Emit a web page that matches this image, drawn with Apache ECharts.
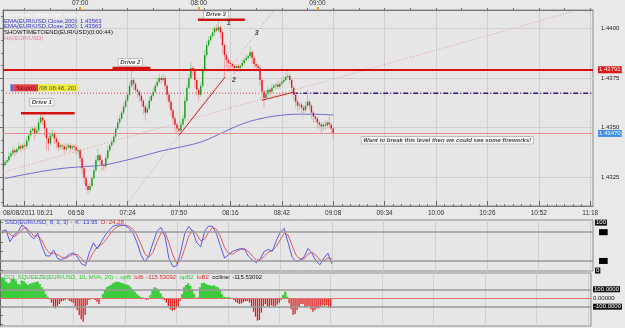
<!DOCTYPE html>
<html>
<head>
<meta charset="utf-8">
<script src="https://cdn.jsdelivr.net/npm/echarts@6/dist/echarts.min.js"></script>
<style>
  html, body { margin: 0; padding: 0; background: #e9e9e9; }
  #chart { width: 625px; height: 328px; }
</style>
</head>
<body>
<div id="chart"></div>
<script>
// EUR/USD 1-minute Heikin-Ashi bars, 08/08/2011, first bar 06:22
// prices are kept in pips above 1.4300
const firstOpen = 31;
const closes = [
  32.5, 33.5, 35.5, 37, 38.5, 37.5, 39, 40.5, 39.5, 41,
  40.5, 43.5, 46, 48.5, 49.5, 47, 48.5, 52.5, 55, 53.5,
  49.5, 44.5, 42, 46, 47, 44.5, 42.5, 40, 41, 40.5,
  39, 40, 41, 39.5, 40.5, 40, 38.5, 38.5, 34.5, 29.5,
  24.5, 20.5, 18.5, 20.5, 24.5, 28.5, 33.5, 36, 33.5, 31,
  30.5, 34.5, 38.5, 41, 42.5, 45.5, 49.5, 52.5, 54.5, 57.5,
  60.5, 63.5, 66.5, 71, 74, 72, 69, 68, 66, 63.5,
  60.5, 57.5, 59.5, 63.5, 66, 68, 71, 73, 75, 74,
  75, 71, 66.5, 63, 58.7, 54.5, 51.5, 49.5, 48.5, 51.5,
  54.5, 63.5, 70, 75, 80, 79, 74, 69, 66.5, 71,
  78.5, 86.5, 91.5, 94, 96, 98, 100, 99, 100.5, 98,
  91.5, 86.5, 84, 82.5, 82, 81, 80, 81, 80, 81,
  82.5, 84, 85, 86, 88, 85, 82, 81, 80, 74,
  68, 65, 67, 69, 68, 70, 71, 71.5, 70.5, 72,
  73, 74, 75.5, 76, 74, 70, 66.5, 63, 61, 61.5,
  60, 58.7, 61, 63, 61, 57.5, 55.5, 54.5, 52.5, 51.5,
  50.5, 51.5, 51, 52.5, 51.5, 49.5, 47
];
const wickUp = [
  1, 1, 2, 1, 2, 1, 1, 2, 1, 1,
  1, 2, 1, 2, 1, 1, 2, 2, 3, 1,
  1, 1, 1, 2, 2, 1, 1, 1, 1, 1,
  1, 2, 1, 1, 1, 1, 1, 1, 1, 1,
  1, 1, 1, 2, 1, 2, 2, 3, 1, 1,
  1, 2, 2, 1, 2, 2, 1, 2, 2, 1,
  2, 2, 1, 2, 5, 1, 1, 1, 1, 1,
  1, 1, 2, 2, 1, 2, 1, 2, 2, 1,
  2, 1, 1, 1, 1, 1, 1, 1, 1, 2,
  2, 2, 2, 2, 3, 1, 1, 1, 1, 2,
  2, 3, 2, 2, 1, 2, 1, 2, 3, 1,
  1, 1, 1, 1, 1, 1, 1, 1, 1, 1,
  2, 1, 2, 1, 3, 1, 1, 1, 1, 1,
  1, 1, 2, 2, 1, 2, 1, 1, 2, 1,
  2, 2, 2, 3, 1, 1, 1, 1, 1, 1,
  1, 1, 2, 6, 1, 1, 1, 1, 1, 1,
  1, 1, 2, 1, 3, 1, 1
];
const wickDn = [
  1, 1, 1, 1, 1, 2, 1, 1, 2, 1,
  2, 1, 1, 1, 1, 3, 1, 1, 1, 2,
  4, 6, 4, 1, 1, 3, 3, 2, 1, 2,
  2, 1, 1, 2, 1, 2, 2, 2, 2, 3,
  3, 2, 2, 1, 1, 1, 1, 1, 3, 3,
  2, 1, 1, 1, 1, 1, 1, 1, 1, 1,
  1, 1, 1, 1, 1, 3, 2, 3, 3, 3,
  4, 4, 1, 1, 1, 1, 1, 1, 1, 2,
  1, 2, 3, 3, 3, 3, 4, 3, 3, 1,
  1, 1, 1, 1, 1, 3, 4, 3, 3, 1,
  1, 1, 1, 1, 1, 1, 2, 1, 1, 3,
  4, 11, 4, 3, 3, 2, 3, 2, 2, 2,
  1, 1, 1, 1, 1, 3, 2, 2, 2, 3,
  4, 5, 1, 2, 2, 1, 1, 2, 1, 1,
  1, 1, 1, 1, 2, 3, 3, 3, 3, 2,
  3, 3, 1, 1, 2, 3, 3, 2, 3, 2,
  3, 2, 2, 1, 2, 3, 3
];
// EMA(200) read at every 10th bar
const emaBars = [0, 10, 20, 30, 40, 50, 60, 70, 80, 90, 100, 110, 120, 130, 140, 150, 160, 166];
const emaPips = [24.3, 26.3, 28.1, 29.5, 30.3, 31.1, 33.2, 35.7, 38.4, 40.4, 43.0, 47.4, 51.8, 54.6, 56.2, 56.7, 56.6, 56.3];

// slow stochastic, read at every 2nd bar
const stochK = [82, 85, 60, 74, 80, 95, 89, 74, 66, 78, 52, 31, 30, 43, 25, 22, 28, 34, 37, 28,
  14, 10, 38, 58, 45, 60, 74, 84, 93, 95, 95, 94, 88, 78, 58, 32, 18, 32, 58, 82,
  90, 72, 25, 8, 10, 40, 78, 92, 82, 58, 50, 82, 93, 92, 76, 50, 26, 33, 40, 43,
  46, 45, 30, 22, 16, 25, 40, 44, 40, 62, 80, 88, 58, 28, 19, 22, 28, 46, 36, 20,
  12, 26, 36, 14];
const stochD = [78, 82, 76, 70, 76, 85, 90, 82, 72, 72, 64, 46, 36, 36, 33, 28, 25, 30, 34, 33,
  25, 16, 22, 38, 49, 54, 62, 74, 85, 91, 94, 95, 92, 86, 73, 54, 34, 28, 38, 60,
  78, 80, 58, 32, 14, 22, 46, 72, 84, 76, 62, 66, 80, 90, 86, 70, 48, 36, 34, 40,
  44, 45, 40, 30, 22, 22, 30, 38, 42, 50, 64, 78, 74, 52, 32, 24, 24, 34, 38, 32,
  22, 20, 26, 24];

// CCI squeeze histogram, one value per bar
const cci = [
  238, 226, 188, 169, 176, 218, 222, 199, 161, 153,
  199, 192, 169, 149, 161, 169, 176, 184, 188, 161,
  123, 84, 46, 15, -15, -54, -107, -119, -92, -69,
  -42, -31, -23, -8, -31, -42, -54, -92, -138, -195,
  -245, -272, -195, -80, -23, -15, -11, -23, -42, -69,
  -4, 46, 92, 123, 138, 149, 169, 180, 188, 184,
  176, 169, 161, 153, 146, 123, 92, 73, 46, 27,
  11, 4, -11, -23, -15, 34, 92, 123, 111, 84,
  54, 15, -23, -54, -92, -130, -146, -138, -119, -92,
  -31, 46, 123, 149, 169, 138, 100, 46, -8, 8,
  123, 169, 176, 161, 149, 146, 138, 146, 130, 123,
  92, 46, 15, 8, 11, 8, -4, -23, -46, -61,
  -69, -61, -46, -38, -34, -54, -92, -157, -215, -261,
  -253, -169, -92, -69, -92, -100, -84, -92, -100, -77,
  -54, -23, 34, 73, 15, -61, -130, -195, -184, -138,
  -100, -69, -69, -107, -100, -92, -130, -157, -138, -119,
  -119, -100, -84, -92, -80, -107, -115
];

// levels and hand-drawn lines: [minute since 06:21, price]
const resistance = 1.43791;
const support = 1.43470;
const stopLine = [[0, 1.43673], [146.8, 1.43673]];
const stopExt = [[146.8, 1.43673], [298.4, 1.43673]];
const fanLine = [[0, 1.43275], [287, 1.44081]];
const steepLine = [[62.9, 1.43118], [136.9, 1.44091]];
const legLine = [[89.1, 1.43461], [112.4, 1.43755]];
const baseLine = [[130.9, 1.43637], [147, 1.43678]];
const drive1 = [[9.1, 1.43572], [36.2, 1.43572]];
const drive2 = [[55.4, 1.43800], [74.5, 1.43800]];
const drive3 = [[98.6, 1.44043], [122.3, 1.44043]];

const boxNotes = ['Drive 1', 'Drive 2', 'Drive 3', 'Want to break this level then we could see some fireworks!'];
const boxNoteAt = [[19.6, 1.43627], [64.4, 1.43829], [107.7, 1.44068], [224.7, 1.43436]];
const pointNotes = ['1', '2', '3'];
const pointNoteAt = [[114.2, 1.44025], [116.8, 1.43738], [128.3, 1.43975]];
const stopNoteAt = [3.5, 1.43700];

const priceTicks = [1.4325, 1.4350, 1.4375, 1.4400];
const gridMinutes = [11, 37, 63, 89, 115, 141, 167, 193, 219, 245, 271, 297];
const bottomLabels = [0, 37, 63, 89, 115, 141, 167, 193, 219, 245, 271, 297];
const topLabels = [39, 99, 159];

const P = q => +(1.43 + q / 10000).toFixed(5);
const hhmm = m => {
  const t = 6 * 60 + 21 + Math.round(m);
  return String(Math.floor(t / 60)).padStart(2, '0') + ':' + String(t % 60).padStart(2, '0');
};

const haData = closes.map((c, i) => {
  const o = i ? closes[i - 1] : firstOpen;
  return [i + 1, P(o), P(c), P(Math.min(o, c) - wickDn[i]), P(Math.max(o, c) + wickUp[i])];
});
const emaData = emaBars.map((b, i) => [b + 1, P(emaPips[i])]);
const kData = stochK.map((v, j) => [2 * j + 1, v]);
const dData = stochD.map((v, j) => [2 * j + 1, v]);
const cciData = cci.map((v, i) => [i + 1, v]);

const X_MAX = 298.4;
const FONT = 'Liberation Sans';
const minorBottom = [];
for (let m = 11 - 26; m <= X_MAX; m += 26 / 6) if (m >= 0) minorBottom.push(+m.toFixed(2));
const minorTop = [];
for (let m = 11; m <= X_MAX; m += 13) minorTop.push(m);
const minorPrice = [];
for (let p = 1.43125; p < 1.441; p += 0.000625) minorPrice.push(+p.toFixed(6));

const gridBg = '#e6e6e6';
const splitColor = '#d0d0d0';

function renderHA(params, api) {
  const m = api.value(0);
  const o = api.coord([m, api.value(1)]);
  const c = api.coord([m, api.value(2)]);
  const l = api.coord([m, api.value(3)]);
  const h = api.coord([m, api.value(4)]);
  const up = api.value(2) >= api.value(1);
  const top = Math.min(o[1], c[1]);
  const bot = Math.max(o[1], c[1]);
  return {
    type: 'group',
    children: [
      { type: 'line', shape: { x1: o[0], y1: h[1], x2: o[0], y2: l[1] },
        style: { stroke: up ? '#9fd69f' : '#f2a2a8', lineWidth: 1 } },
      { type: 'rect', shape: { x: o[0] - 0.7, y: top, width: 1.4, height: Math.max(bot - top, 1) },
        style: { fill: up ? '#1c9a1c' : '#e2141c' } }
    ]
  };
}

function renderCci(params, api) {
  const m = api.value(0);
  const v = api.value(1);
  const p0 = api.coord([m, 0]);
  const p1 = api.coord([m, v]);
  const w = v >= 0 ? 2.4 : 1.3;
  return {
    type: 'rect',
    shape: { x: p0[0] - w / 2, y: Math.min(p0[1], p1[1]), width: w, height: Math.abs(p1[1] - p0[1]) },
    style: { fill: v >= 0 ? '#3ccc3c' : '#e21c1c' }
  };
}

const lineSeries = (data, color, width, type, z) => ({
  type: 'line', xAxisIndex: 0, yAxisIndex: 0, data, symbol: 'none', silent: true, z: z || 3,
  lineStyle: { color, width, type }
});

const boxLabel = {
  show: true, position: 'inside', fontFamily: FONT, fontSize: 6, fontStyle: 'italic', fontWeight: 'bold',
  color: '#111', backgroundColor: '#fff', borderColor: '#888', borderWidth: 0.5, padding: [1, 2, 0, 2]
};

const text = (x, y, rich, str, fill) => ({
  type: 'text', left: x, top: y, z: 100,
  style: { text: str, rich, font: '6px ' + FONT, fill: fill || '#111' }
});

const chart = echarts.init(document.getElementById('chart'), null, { renderer: 'canvas' });
chart.setOption({
  animation: false,
  backgroundColor: '#e9e9e9',
  textStyle: { fontFamily: FONT },
  grid: [
    { left: 0, right: 32, top: 10, height: 196, show: true, backgroundColor: gridBg, borderColor: '#8c8c8c', borderWidth: 1 },
    { left: 0, right: 32, top: 220, height: 51, show: true, backgroundColor: gridBg, borderColor: '#8c8c8c', borderWidth: 1 },
    { left: 0, right: 32, top: 273, height: 53, show: true, backgroundColor: gridBg, borderColor: '#8c8c8c', borderWidth: 1 }
  ],
  xAxis: [
    { gridIndex: 0, type: 'value', min: 0, max: X_MAX, position: 'bottom',
      axisLine: { show: true, lineStyle: { color: '#777' } },
      axisTick: { show: true, inside: true, length: 5, customValues: gridMinutes, lineStyle: { color: '#666' } },
      axisLabel: { customValues: bottomLabels, formatter: v => (v === 0 ? '08/08/2011 06:21' : hhmm(v)),
        fontSize: 6.5, color: '#333', margin: 4, alignMinLabel: 'left' },
      splitLine: { show: true, lineStyle: { color: splitColor } } },
    { gridIndex: 0, type: 'value', min: 0, max: X_MAX, position: 'bottom',
      axisLine: { show: false },
      axisTick: { show: true, inside: true, length: 2, customValues: minorBottom, lineStyle: { color: '#777' } },
      axisLabel: { show: false }, splitLine: { show: false } },
    { gridIndex: 0, type: 'value', min: 0, max: X_MAX, position: 'top',
      axisLine: { show: true, lineStyle: { color: '#777' } },
      axisTick: { show: true, length: 2, customValues: minorTop, lineStyle: { color: '#777' } },
      axisLabel: { customValues: topLabels, formatter: v => hhmm(v), fontSize: 6.5, color: '#333', margin: 3 },
      splitLine: { show: false } },
    { gridIndex: 1, type: 'value', min: 0, max: X_MAX,
      axisLine: { show: false }, axisTick: { show: false, customValues: gridMinutes }, axisLabel: { show: false },
      splitLine: { show: true, lineStyle: { color: splitColor } } },
    { gridIndex: 2, type: 'value', min: 0, max: X_MAX,
      axisLine: { show: false }, axisTick: { show: false, customValues: gridMinutes }, axisLabel: { show: false },
      splitLine: { show: true, lineStyle: { color: splitColor } } },
    { gridIndex: 0, type: 'value', min: 0, max: X_MAX, position: 'top',
      axisLine: { show: false },
      axisTick: { show: true, length: 3, customValues: topLabels, lineStyle: { color: '#e8a21c', width: 2 } },
      axisLabel: { show: false }, splitLine: { show: false } }
  ],
  yAxis: [
    { gridIndex: 0, type: 'value', position: 'right', offset: 6, min: 1.431043, max: 1.440922,
      axisLine: { show: true, lineStyle: { color: '#666' } },
      axisTick: { show: true, inside: true, length: 4, customValues: priceTicks, lineStyle: { color: '#666' } },
      axisLabel: { customValues: priceTicks, formatter: v => v.toFixed(4), fontSize: 6, color: '#222', margin: 2 },
      splitLine: { show: true, lineStyle: { color: splitColor } } },
    { gridIndex: 0, type: 'value', position: 'right', offset: 6, min: 1.431043, max: 1.440922,
      axisLine: { show: false },
      axisTick: { show: true, inside: true, length: 2, customValues: minorPrice, lineStyle: { color: '#777' } },
      axisLabel: { show: false }, splitLine: { show: false } },
    { gridIndex: 1, type: 'value', position: 'right', min: -1, max: 105.5,
      axisLine: { show: true, lineStyle: { color: '#666' } },
      axisTick: { show: true, length: 3, customValues: [0, 20, 40, 60, 80, 100], lineStyle: { color: '#666' } },
      axisLabel: { customValues: [0, 100], fontSize: 6, color: '#fff', backgroundColor: '#111', padding: [0, 1], margin: 2 },
      splitLine: { show: false } },
    { gridIndex: 2, type: 'value', position: 'right', min: -322, max: 287,
      axisLine: { show: true, lineStyle: { color: '#666' } },
      axisTick: { show: true, length: 3, customValues: [-300, -200, -100, 0, 100, 200], lineStyle: { color: '#666' } },
      axisLabel: { customValues: [-100, 0, 100], fontSize: 6, margin: 2,
        formatter: v => (v === 0 ? '{n|0.00000}' : '{b|' + v.toFixed(4) + '}'),
        rich: { b: { color: '#fff', backgroundColor: '#111', fontSize: 6, padding: [0, 1] },
                n: { color: '#222', fontSize: 6 } } },
      splitLine: { show: false } }
  ],
  series: [
    lineSeries(fanLine, '#e39a9a', 1, [1, 2], 2),
    lineSeries(steepLine, '#e39a9a', 1, [1, 2], 2),
    lineSeries(stopLine, '#d84848', 1, [1, 2], 2),
    lineSeries(stopExt, '#3a1478', 1.5, [5, 2, 1, 2], 2),
    {
      type: 'line', name: 'EMA', xAxisIndex: 0, yAxisIndex: 0, data: emaData, symbol: 'none',
      smooth: 0.4, silent: true, z: 3, lineStyle: { color: '#6d6dd0', width: 1 },
      markLine: {
        symbol: 'none', silent: true, precision: 5,
        data: [
          { yAxis: resistance, lineStyle: { color: '#d41010', width: 2, type: 'solid' },
            label: { show: true, position: 'end', formatter: resistance.toFixed(5), fontSize: 6, color: '#fff',
              backgroundColor: '#e01414', padding: [1, 1, 0, 1], distance: 5 } },
          { yAxis: support, lineStyle: { color: '#e69090', width: 1, type: 'solid' },
            label: { show: true, position: 'end', formatter: support.toFixed(5), fontSize: 6, color: '#fff',
              backgroundColor: '#3f8ee6', padding: [1, 1, 0, 1], distance: 5 } }
        ]
      }
    },
    {
      type: 'custom', name: 'HA', xAxisIndex: 0, yAxisIndex: 0, data: haData, renderItem: renderHA,
      encode: { x: 0, y: [1, 2, 3, 4] }, z: 4, silent: true, clip: true
    },
    lineSeries(legLine, '#d42222', 1, 'solid', 5),
    lineSeries(baseLine, '#d42222', 1, 'solid', 5),
    lineSeries(drive1, '#d41010', 2.5, 'solid', 5),
    lineSeries(drive2, '#d41010', 2.5, 'solid', 5),
    lineSeries(drive3, '#d41010', 2.5, 'solid', 5),
    {
      type: 'scatter', xAxisIndex: 0, yAxisIndex: 0, symbolSize: 1, silent: true, z: 6,
      itemStyle: { color: 'rgba(0,0,0,0)' },
      data: boxNotes.map((t, i) => ({ value: boxNoteAt[i], label: Object.assign({}, boxLabel, { formatter: t }) }))
        .concat(pointNotes.map((t, i) => ({ value: pointNoteAt[i],
          label: { show: true, position: 'inside', formatter: t, fontFamily: FONT, fontSize: 7,
            fontStyle: 'italic', fontWeight: 'bold', color: '#222' } })))
        .concat([{ value: stopNoteAt, label: {
          show: true, position: 'right', distance: 0, fontFamily: FONT, fontSize: 6,
          formatter: '{bl|}{rd|Stop(0)}{yl|/08 08:48, 20)}',
          rich: {
            bl: { backgroundColor: '#3a46c8', width: 3, height: 7 },
            rd: { backgroundColor: '#e4181c', color: '#5a0000', padding: [1, 2, 0, 3], fontSize: 6 },
            yl: { backgroundColor: '#f2ee10', color: '#333', padding: [1, 2, 0, 1], fontSize: 6 }
          } } }])
    },
    {
      type: 'line', name: 'K', xAxisIndex: 3, yAxisIndex: 2, data: kData, symbol: 'none', silent: true,
      lineStyle: { color: '#5a5ae6', width: 1 }, z: 4,
      markLine: {
        symbol: 'none', silent: true,
        lineStyle: { color: '#9a9a9a', width: 1.5, type: 'solid' },
        label: { show: true, position: 'end', formatter: '80', fontSize: 6, color: '#000',
          backgroundColor: '#000', padding: [0, 1], distance: 6 },
        data: [{ yAxis: 80 }, { yAxis: 20 }]
      }
    },
    {
      type: 'line', name: 'D', xAxisIndex: 3, yAxisIndex: 2, data: dData, symbol: 'none', silent: true,
      lineStyle: { color: '#e25a5a', width: 1 }, z: 3
    },
    {
      type: 'custom', name: 'CCI', xAxisIndex: 4, yAxisIndex: 3, data: cciData, renderItem: renderCci,
      encode: { x: 0, y: 1 }, silent: true, z: 3,
      markLine: {
        symbol: 'none', silent: true, label: { show: false },
        data: [
          { yAxis: 100, lineStyle: { color: '#9a9a9a', width: 1.5, type: 'solid' } },
          { yAxis: -100, lineStyle: { color: '#9a9a9a', width: 1.5, type: 'solid' } },
          { yAxis: 0, lineStyle: { color: '#e47070', width: 1, type: 'solid' } }
        ]
      }
    }
  ],
  graphic: [
    text(4, 12, null, '[Template: Which Pair Today?]', '#fbfbfb'),
    text(4, 18.5, { a: { fill: '#3434c8' } }, '{a|EMA(EUR/USD,Close,200): 1.43563}'),
    text(4, 23.5, { a: { fill: '#3434c8' } }, '{a|EMA(EUR/USD,Close,200): 1.43563}'),
    text(4, 29.5, { a: { fill: '#111' } }, '{a|SHOWTIMETOEND(EUR/USD)(0:00:44)}'),
    text(4, 35, { a: { fill: '#f07cb0' } }, '{a|HA(EUR/USD)}'),
    text(5, 219.5, { b: { fill: '#3a3ad8' }, r: { fill: '#e02c2c' } },
      '{b|SSD(EUR/USD, 8, 3, 3) -  K: 13.95}  {r|D: 24.28}'),
    text(4, 274.5, { g: { fill: '#36c436' }, r: { fill: '#e02c2c' }, k: { fill: '#111' } },
      '{g|CCI_SQUEEZE(EUR/USD, 10, MVA, 20) -  upB}  {r|loB: -115.53092}  {g|upB2}  {r|loB2}  {k|cciline: -115.53092}')
  ]
});
</script>
</body>
</html>
